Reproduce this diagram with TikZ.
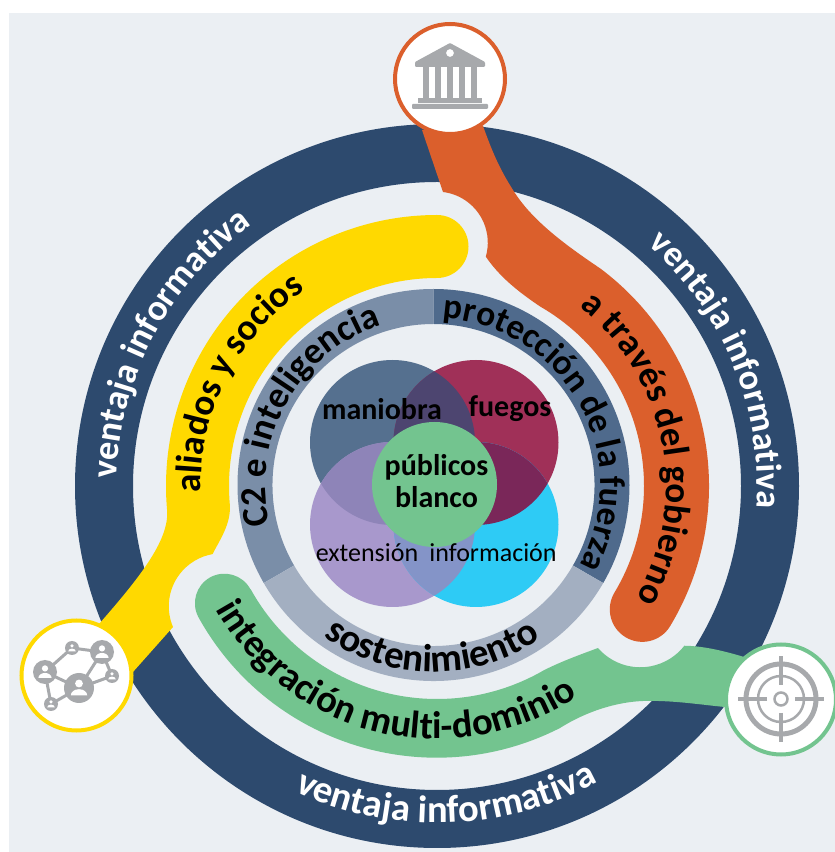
\documentclass[tikz,border=0pt]{standalone}
\usepackage{fontspec}
\setmainfont{Carlito}
\usetikzlibrary{calc,decorations.text}
\definecolor{panelbg}{HTML}{EBEFF3}
\definecolor{navy}{HTML}{2D4A6E}
\definecolor{orangeband}{HTML}{DB5F2C}
\definecolor{yellowband}{HTML}{FFD900}
\definecolor{greenband}{HTML}{73C48F}
\definecolor{icongray}{HTML}{A7A9AC}
\definecolor{segleft}{HTML}{7A8EA8}
\definecolor{segright}{HTML}{4F6A8C}
\definecolor{segbottom}{HTML}{A3AFC1}
\definecolor{maniobracol}{HTML}{55708F}
\definecolor{fuegoscol}{HTML}{A03058}
\definecolor{extensioncol}{HTML}{A898CC}
\definecolor{informacioncol}{HTML}{2ECBF5}
\definecolor{mfcol}{HTML}{4D4570}
\definecolor{ficol}{HTML}{7A2759}
\definecolor{eicol}{HTML}{8494C8}
\definecolor{mecol}{HTML}{8E84B8}
\tikzset{
    bandtext/.style n args={3}{decorate,decoration={text along path,text align=center,
        text={|\fontsize{#1}{#1}\selectfont\bfseries\color{#2}|#3}}},
    iconring/.style={circle,draw=#1,line width=4pt,fill=white,minimum size=110pt,inner sep=0pt},
    vennlabel/.style={font=\fontsize{#1}{32}\selectfont,text=black,inner sep=0pt,align=center},
    vennbold/.style={font=\fontsize{30}{32}\selectfont\bfseries,text=black,inner sep=0pt,align=center}
}
\begin{document}
\begin{tikzpicture}[x=1pt,y=1pt]
    \useasboundingbox (0,0) rectangle (835,852);
    \fill[panelbg] (9,0) rectangle (835,839);
    \begin{scope}[shift={(437,366)}]
    % outer ring
    \fill[navy,even odd rule] (0,0) circle (362) (0,0) circle (304);
    \path (190:320) arc[start angle=190,end angle=114,radius=320] [bandtext={36.5}{white}{ventaja informativa}];
    \path (61:320) arc[start angle=61,end angle=-16,radius=320] [bandtext={36}{white}{ventaja informativa}];
    \path (232:337) arc[start angle=232,end angle=311.4,radius=337] [bandtext={38.5}{white}{ventaja informativa}];
    % three bands
    \fill[orangeband] (-15,356) -- (6,294) arc[start angle=83,end angle=-16,radius=51]
        .. controls (62,210) and (80,195) .. (60:207) arc[start angle=60,end angle=-31,radius=207]
        arc[start angle=149,end angle=329,radius=32.5] arc[start angle=-31,end angle=53,radius=272]
        .. controls (130,240) and (95,265) .. (76,296) .. controls (62,318) and (55,335) .. (46,360) -- cycle;
    \fill[yellowband] (90:271) arc[start angle=90,end angle=185,radius=271]
        .. controls (-267,-55) and (-300,-95) .. (-345,-146) -- (-312,-195) -- (-264,-141)
        arc[start angle=203,end angle=100,radius=53]
        .. controls (-218,-55) and (-205.5,-38) .. (185:208) arc[start angle=185,end angle=90,radius=208]
        arc[start angle=-90,end angle=90,radius=31.5] -- cycle;
    \fill[greenband] (209:213) arc[start angle=209,end angle=300,radius=213]
        .. controls (125,-175) and (145,-168) .. (161,-162)
        arc[start angle=221,end angle=322,radius=56]
        .. controls (270,-160) and (295,-167) .. (320,-175) -- (300,-222)
        .. controls (270,-220) and (240,-214) .. (206,-215) .. controls (180,-216) and (150,-225) .. (123,-242)
        arc[start angle=297,end angle=209,radius=272] arc[start angle=209,end angle=29,radius=29.5] -- cycle;
    \path (187.75:236) arc[start angle=187.75,end angle=117.75,radius=236] [bandtext={37}{black}{aliados y socios}];
    \path (59:229) arc[start angle=59,end angle=-37,radius=229] [bandtext={37}{black}{a través del gobierno}];
    \path (201.5:253) arc[start angle=201.5,end angle=311.5,radius=253] [bandtext={38.5}{black}{integración multi-dominio}];
    % gray ring
    \begin{scope}[shift={(-3.5,1)}]
    \fill[segleft] (90:196) arc[start angle=90,end angle=210,radius=196] -- (210:161) arc[start angle=210,end angle=90,radius=161] -- cycle;
    \fill[segright] (90:196) arc[start angle=90,end angle=-30,radius=196] -- (-30:161) arc[start angle=-30,end angle=90,radius=161] -- cycle;
    \fill[segbottom] (210:196) arc[start angle=210,end angle=330,radius=196] -- (330:161) arc[start angle=330,end angle=210,radius=161] -- cycle;
    \path (200.75:168) arc[start angle=200.75,end angle=100.75,radius=168] [bandtext={37}{black}{C2 e inteligencia}];
    \path (93:167) arc[start angle=93,end angle=-35,radius=167] [bandtext={35.5}{black}{protección de la fuerza}];
    \path (224.5:187) arc[start angle=224.5,end angle=314.5,radius=187] [bandtext={39}{black}{sostenimiento}];
    \end{scope}
    % venn
    \coordinate (man) at (-44.5,43.5);
    \coordinate (fue) at (39,43.5);
    \coordinate (ext) at (-44.5,-38.5);
    \coordinate (inf) at (39,-38.5);
    \fill[maniobracol] (man) circle (82.5);
    \fill[fuegoscol] (fue) circle (82.5);
    \fill[extensioncol] (ext) circle (82.5);
    \fill[informacioncol] (inf) circle (82.5);
    \begin{scope}
        \clip (man) circle (82.5);
        \fill[mfcol] (fue) circle (82.5);
        \fill[mecol] (ext) circle (82.5);
    \end{scope}
    \begin{scope}
        \clip (inf) circle (82.5);
        \fill[ficol] (fue) circle (82.5);
        \fill[eicol] (ext) circle (82.5);
    \end{scope}
    \node[circle,fill=greenband,minimum size=125pt,inner sep=0pt] (blanco) at (-2.5,1.5) {};
    \node[vennbold] (maniobra) at (-55,77) {maniobra};
    \node[vennbold] (fuegos) at (73,77) {fuegos};
    \node[vennbold] (publicos) at (-0.5,5) {públicos\\blanco};
    \node[vennlabel=26] (extension) at (-70,-67) {extensión};
    \node[vennlabel=26] (informacion) at (56,-67) {información};
    % icons
    \node[iconring=orangeband] (gobierno) at (13,407) {};
    \node[iconring=yellowband] (aliados) at (-360.5,-189.5) {};
    \node[iconring=greenband] (objetivo) at (344,-213.5) {};
    \end{scope}
    % building icon
    \begin{scope}[shift={(450,773)}]
    \fill[icongray,rounded corners=1pt,even odd rule] (0,36) -- (35,17) -- (35,12) -- (-35,12) -- (-35,17) -- cycle (0,26) circle (4);
    \foreach \cx in {-24,-12,0,12,24}
        \fill[icongray] (\cx-3,12) rectangle (\cx+3,-19);
    \fill[icongray] (-32,-19) rectangle (32,-24);
    \fill[icongray,rounded corners=1pt] (-38,-25) rectangle (38,-30);
    \end{scope}
    % target icon
    \begin{scope}[shift={(781,153)},icongray]
    \draw[line width=5pt] (0,0) circle (35);
    \draw[line width=2.5pt] (0,0) circle (23);
    \draw[line width=2.5pt] (0,0) circle (6.5);
    \foreach \rr in {0,90,180,270}
        \draw[line width=3.2pt] (\rr:14) -- (\rr:43);
    \end{scope}
    % network icon
    \begin{scope}[icongray,line width=3pt]
    \coordinate (na) at (45,180);
    \coordinate (nb) at (72,204);
    \coordinate (nc) at (102,200);
    \coordinate (nd) at (112,176);
    \coordinate (ne) at (79,164);
    \coordinate (nf) at (51,148);
    \draw (na) -- (nb) -- (nc) -- (ne) -- (na) -- (nf) -- (ne) -- (nd) -- (nc);
    \foreach \nx/\nr in {na/12,nb/7,nc/12,nd/7,ne/15,nf/7}{
        \fill[icongray] (\nx) circle (\nr);
        \fill[white] ($(\nx)+(0,0.3*\nr)$) circle (0.26*\nr);
        \fill[white] ($(\nx)+(-0.55*\nr,-0.5*\nr)$) arc[start angle=180,end angle=0,x radius=0.55*\nr,y radius=0.42*\nr] -- cycle;
    }
    \end{scope}
\end{tikzpicture}
\end{document}
